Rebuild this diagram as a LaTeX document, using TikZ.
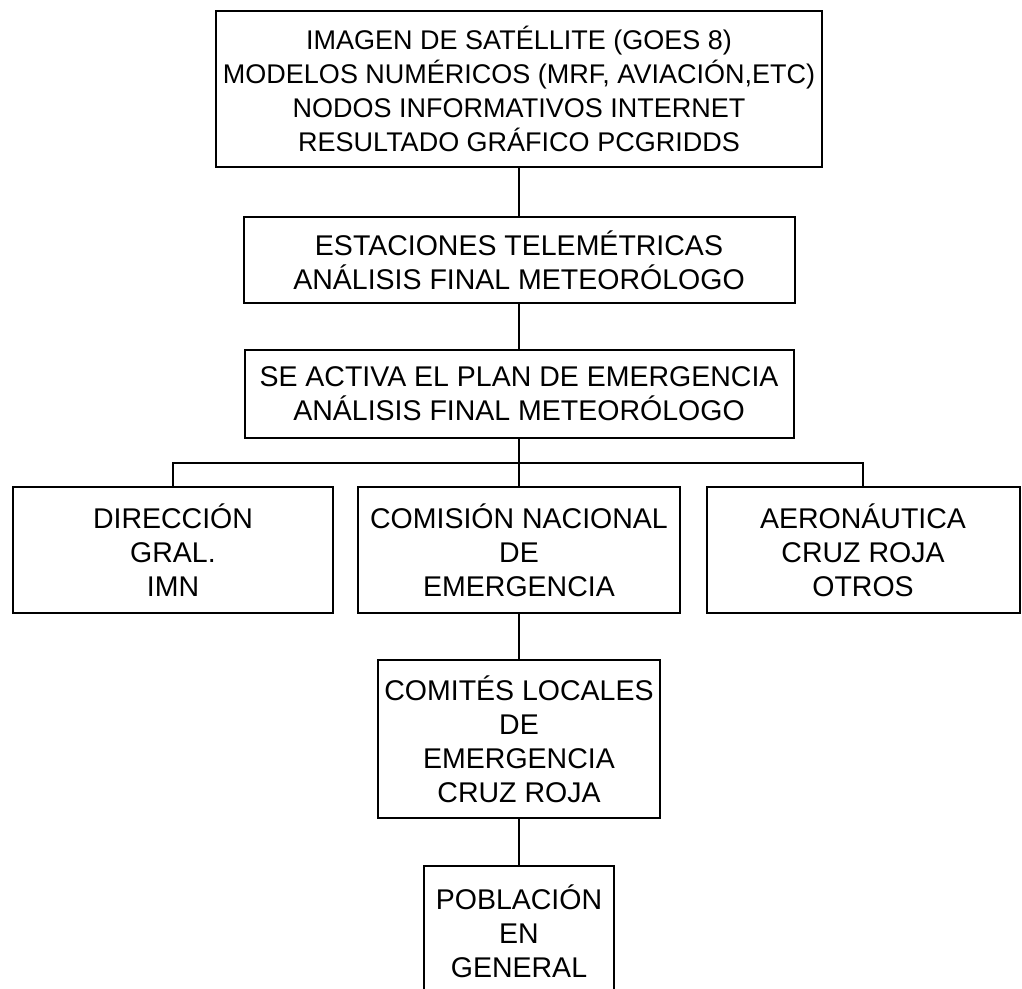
\documentclass[tikz,border=0pt]{standalone}
\usepackage{fontspec}
\setmainfont{Liberation Sans}
\usetikzlibrary{calc}

\tikzset{
  caja/.style={draw, line width=2pt, align=center, inner sep=0pt, font=\fontsize{28.5}{34}\selectfont},
  linea/.style={line width=2pt},
}

\begin{document}
\begin{tikzpicture}[x=1pt,y=-1pt]
  \clip (0,0) rectangle (1022,988);
  \fill[white] (0,0) rectangle (1022,988);
  \node[caja, minimum width=606, minimum height=156, font=\fontsize{27}{34}\selectfont] (satelite) at (519,89)
    {IMAGEN DE SATÉLLITE (GOES 8)\\MODELOS NUMÉRICOS (MRF, AVIACIÓN,ETC)\\NODOS INFORMATIVOS INTERNET\\RESULTADO GRÁFICO PCGRIDDS};
  \node[caja, minimum width=551, minimum height=86] (estaciones) at (519,260)
    {ESTACIONES TELEMÉTRICAS\\ANÁLISIS FINAL METEORÓLOGO};
  \node[caja, minimum width=549, minimum height=88] (plan) at (519,394)
    {SE ACTIVA EL PLAN DE EMERGENCIA\\ANÁLISIS FINAL METEORÓLOGO};
  \coordinate (bus) at (519,463);
  \node[caja, minimum width=320, minimum height=126] (direccion) at (173,550)
    {DIRECCIÓN\\GRAL.\\IMN};
  \node[caja, minimum width=322, minimum height=126] (comision) at (519,550)
    {COMISIÓN NACIONAL\\DE\\EMERGENCIA};
  \node[caja, minimum width=313, minimum height=126] (aeronautica) at (863,550)
    {AERONÁUTICA\\CRUZ ROJA\\OTROS};
  \node[caja, minimum width=282, minimum height=158] (comites) at (519,739)
    {COMITÉS LOCALES\\DE\\EMERGENCIA\\CRUZ ROJA};
  \node[caja, minimum width=190, minimum height=130] (poblacion) at (519,931)
    {POBLACIÓN\\EN\\GENERAL};

  \draw[linea] (satelite.south) -- (estaciones.north);
  \draw[linea] (estaciones.south) -- (plan.north);
  \draw[linea] (plan.south) -- (bus);
  \draw[linea] (direccion.north) |- (bus) -| (aeronautica.north);
  \draw[linea] (bus) -- (comision.north);
  \draw[linea] (comision.south) -- (comites.north);
  \draw[linea] (comites.south) -- (poblacion.north);
\end{tikzpicture}
\end{document}
